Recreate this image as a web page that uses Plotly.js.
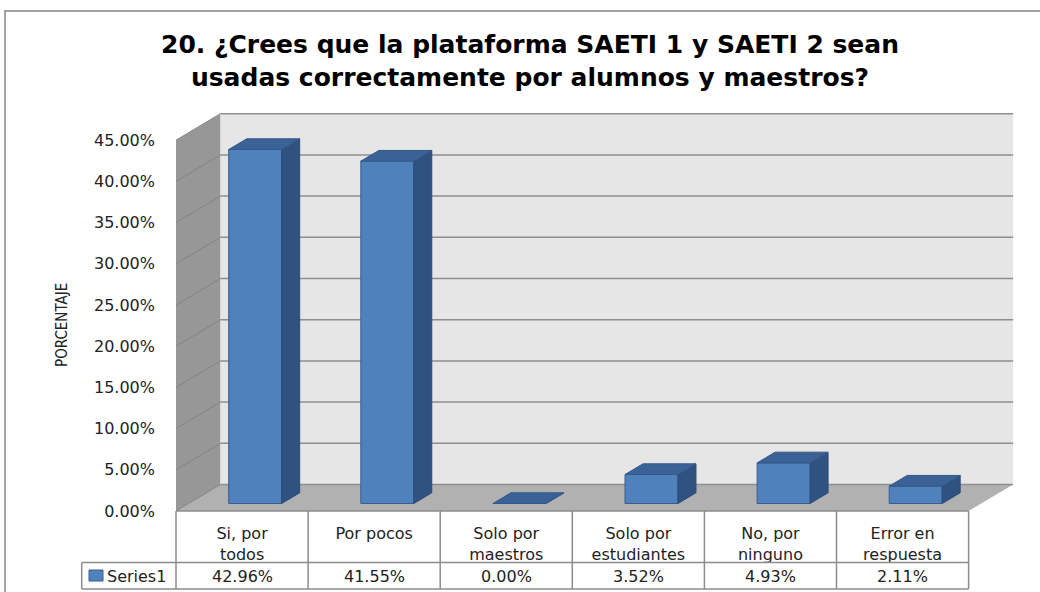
<!DOCTYPE html>
<html>
<head>
<meta charset="utf-8">
<script src="https://cdn.plot.ly/plotly-3.0.1.min.js"></script>
<style>html,body{margin:0;padding:0;background:#fff;}#chart{width:1040px;height:592px;}</style>
</head>
<body>
<div id="chart"></div>
<script>
// ---- data ----
const categories = ["Si, por<br>todos", "Por pocos", "Solo por<br>maestros", "Solo por<br>estudiantes", "No, por<br>ninguno", "Error en<br>respuesta"];
const values = [0.4296, 0.4155, 0.0000, 0.0352, 0.0493, 0.0211];
const yTicks = [0, 0.05, 0.10, 0.15, 0.20, 0.25, 0.30, 0.35, 0.40, 0.45];
const seriesName = "Series1";
const chartTitle = "20. ¿Crees que la plataforma SAETI 1 y SAETI 2 sean<br>usadas correctamente por alumnos y maestros?";
const yTitle = "PORCENTAJE";

// ---- geometry ----
const W = 1040, H = 592;
const ML = 176, MR = 20, MT = 100, MB = 81;
const plotW = W - ML - MR, plotH = H - MT - MB;
const colPx = 132.1;            // pixels per category
const unitPx = 824;             // pixels per 1.0 (=100%)
const idx = categories.map((c, i) => i);
const xRange = [-0.5, -0.5 + plotW / colPx];
const y2Range = [0, plotH / unitPx];               // front plane (tick labels)
const baseLift = 7.5 / unitPx;                    // bars stand mid-depth on floor
const yRange = [-baseLift, plotH / unitPx - baseLift];
const DX = 44.5 / colPx, DY = 26.5 / unitPx;      // full floor depth
const bOff = -0.101, bW = 0.401;
const bdx = 18 / colPx, bdy = 10.7 / unitPx;      // bar depth

// pixel helpers for paper-space decorations
const px = v => ML + (v - xRange[0]) * colPx;
const pX = p => (p - ML) / plotW;
const pY = p => (H - MB - p) / plotH;

const fontMain = "DejaVu Sans, Verdana, sans-serif";

// ---- 3D faces built from values ----
const topX = [], topY = [], sideX = [], sideY = [];
idx.forEach((i) => {
  const v = values[i];
  const xl = i + bOff, xr = i + bOff + bW;
  topX.push(xl, xr, xr + bdx, xl + bdx, xl, null);
  topY.push(v, v, v + bdy, v + bdy, v, null);
  sideX.push(xr, xr, xr + bdx, xr + bdx, xr, null);
  sideY.push(0, v, v + bdy, bdy, 0, null);
});

const traces = [
  {
    type: 'bar', x: idx, y: values, name: seriesName,
    width: bW, offset: bOff,
    marker: {color: '#4F81BD', line: {color: '#3A5E8C', width: 1}},
    xaxis: 'x', yaxis: 'y', showlegend: false, hoverinfo: 'skip'
  },
  {
    type: 'scatter', mode: 'lines', x: sideX, y: sideY, fill: 'toself',
    fillcolor: '#2F5280', line: {color: '#2C4C77', width: 1},
    connectgaps: false, xaxis: 'x', yaxis: 'y', showlegend: false, hoverinfo: 'skip'
  },
  {
    type: 'scatter', mode: 'lines', x: topX, y: topY, fill: 'toself',
    fillcolor: '#3A6297', line: {color: '#34598A', width: 1},
    connectgaps: false, xaxis: 'x', yaxis: 'y', showlegend: false, hoverinfo: 'skip'
  }
];

// ---- shapes ----
const shapes = [];
// chart border
shapes.push({type: 'rect', xref: 'paper', yref: 'paper', x0: pX(5), x1: pX(1046), y0: pY(11), y1: pY(600),
  line: {color: '#868686', width: 1.5}, fillcolor: 'rgba(0,0,0,0)', layer: 'below'});
const yTop = yTicks[yTicks.length - 1];
const xL = xRange[0], xRt = idx.length - 0.5;
// left wall
shapes.push({type: 'path', xref: 'x', yref: 'y2', layer: 'below',
  path: `M${xL},0 L${xL},${yTop} L${xL + DX},${yTop + DY} L${xL + DX},${DY} Z`,
  fillcolor: '#979797', line: {width: 0}});
// back wall
shapes.push({type: 'rect', xref: 'x', yref: 'y2', layer: 'below',
  x0: xL + DX, x1: xRt + DX, y0: DY, y1: yTop + DY, fillcolor: '#E6E6E6', line: {width: 0}});
// floor
shapes.push({type: 'path', xref: 'x', yref: 'y2', layer: 'below',
  path: `M${xL},0 L${xRt},0 L${xRt + DX},${DY} L${xL + DX},${DY} Z`,
  fillcolor: '#B1B1B1', line: {width: 0}});
// gridlines (back wall + left wall)
yTicks.forEach(t => {
  shapes.push({type: 'line', xref: 'x', yref: 'y2', layer: 'below',
    x0: xL + DX, x1: xRt + DX, y0: t + DY, y1: t + DY, line: {color: '#8E8E8E', width: 1.5}});
  shapes.push({type: 'line', xref: 'x', yref: 'y2', layer: 'below',
    x0: xL, x1: xL + DX, y0: t, y1: t + DY, line: {color: '#838383', width: 1}});
});
// data table lines
const tblTop = 511, tblMid = 562.5, tblBot = 589, tblLeft = 81.7;
const lineC = {color: '#8C8C8C', width: 1.5};
[tblTop].forEach(yy => shapes.push({type: 'line', xref: 'paper', yref: 'paper',
  x0: pX(px(xL)), x1: pX(px(xRt)), y0: pY(yy), y1: pY(yy), line: lineC}));
[tblMid, tblBot].forEach(yy => shapes.push({type: 'line', xref: 'paper', yref: 'paper',
  x0: pX(tblLeft), x1: pX(px(xRt)), y0: pY(yy), y1: pY(yy), line: lineC}));
shapes.push({type: 'line', xref: 'paper', yref: 'paper', x0: pX(tblLeft), x1: pX(tblLeft),
  y0: pY(tblMid), y1: pY(tblBot), line: lineC});
for (let k = 0; k <= idx.length; k++) {
  const xx = px(k - 0.5);
  shapes.push({type: 'line', xref: 'paper', yref: 'paper', x0: pX(xx), x1: pX(xx),
    y0: pY(tblTop), y1: pY(tblBot), line: lineC});
}
// legend key in table
shapes.push({type: 'rect', xref: 'paper', yref: 'paper', x0: pX(89), x1: pX(103), y0: pY(570), y1: pY(581),
  fillcolor: '#4F81BD', line: {color: '#3A5E8C', width: 1}});

// ---- annotations ----
const annotations = [];
idx.forEach(i => {
  annotations.push({xref: 'x', yref: 'paper', x: i, y: pY(576), yanchor: 'middle', xanchor: 'center',
    text: (values[i] * 100).toFixed(2) + '%', showarrow: false,
    font: {family: fontMain, size: 16, color: '#222'}});
});
annotations.push({xref: 'paper', yref: 'paper', x: pX(105), y: pY(576), xanchor: 'left', yanchor: 'middle',
  text: seriesName, showarrow: false, font: {family: fontMain, size: 16, color: '#222'}});
annotations.push({xref: 'paper', yref: 'paper', x: pX(62), y: pY(325), xanchor: 'center', yanchor: 'middle',
  text: yTitle, textangle: -90, showarrow: false,
  font: {family: 'DejaVu Sans Condensed, DejaVu Sans, sans-serif', size: 15, color: '#222'}});

const layout = {
  width: W, height: H,
  margin: {l: ML, r: MR, t: MT, b: MB, pad: 0},
  paper_bgcolor: '#fff', plot_bgcolor: 'rgba(0,0,0,0)',
  showlegend: false,
  title: {text: chartTitle, x: 530 / W, xanchor: 'center', xref: 'container',
    y: 1 - 53 / H, yanchor: 'middle', yref: 'container',
    font: {family: 'DejaVu Sans, sans-serif', size: 25, color: '#000', weight: 'bold'}},
  xaxis: {range: xRange, tickvals: idx, ticktext: categories, showgrid: false, zeroline: false,
    showline: false, ticks: '', ticklabelstandoff: 11,
    tickfont: {family: fontMain, size: 16, color: '#222'}, fixedrange: true},
  yaxis: {range: yRange, showgrid: false, zeroline: false, showline: false, showticklabels: false, fixedrange: true},
  yaxis2: {range: y2Range, overlaying: 'y', side: 'left', tickvals: yTicks, tickformat: '.2%',
    showgrid: false, zeroline: false, showline: false, ticks: '', ticklabelstandoff: 20,
    tickfont: {family: fontMain, size: 16, color: '#222'}, fixedrange: true},
  shapes: shapes,
  annotations: annotations,
  bargap: 0
};

Plotly.newPlot('chart', traces, layout, {displayModeBar: false, staticPlot: true});
</script>
</body>
</html>
